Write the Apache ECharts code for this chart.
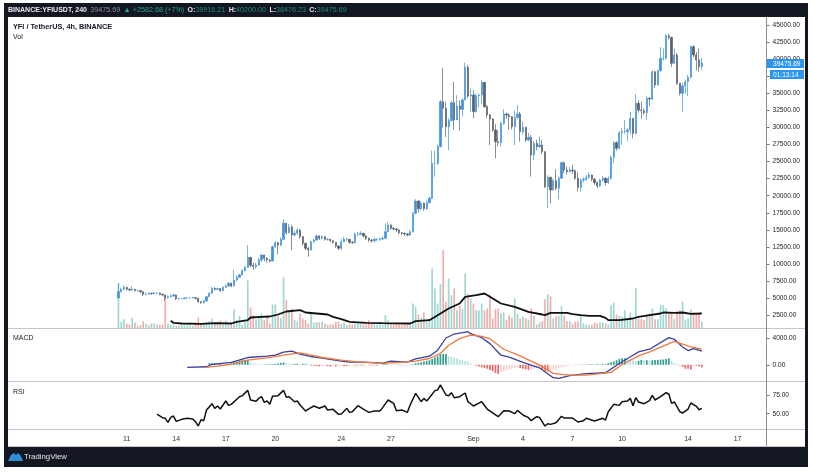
<!DOCTYPE html>
<html>
<head>
<meta charset="utf-8">
<title>YFI / TetherUS</title>
<script src="https://cdn.jsdelivr.net/npm/echarts@6/dist/echarts.min.js"></script>
<style>
    html, body { margin: 0; padding: 0; background: #fff; }
    #chart { width: 813px; height: 475px; }
</style>
</head>
<body>
<div id="chart"></div>
<script>
// 4h bars. firstBar is the slot of the first candle on the time axis.
const barCount = 276;
const firstBar = 40;
const timeTickBars = [43, 61, 79, 97, 121, 139, 169, 187, 205, 223, 247, 265];
const timeTickLabels = ["11", "14", "17", "20", "24", "27", "Sep", "4", "7", "10", "14", "17"];
const priceTicks = [2500, 5000, 7500, 10000, 12500, 15000, 17500, 20000, 22500, 25000, 27500, 30000, 32500, 35000, 37500, 40000, 42500, 45000];
const macdTicks = [0, 4000];
const rsiTicks = [50, 75];

const opens = [
    5000, 5925, 6267, 6560, 6267, 6170, 6267, 6071, 6071, 5925,
    5533, 5582, 5680, 5631, 5729, 5729, 5533, 5435, 5044, 5191,
    5289, 5435, 4898, 4898, 4898, 4996, 4996, 4996, 5044, 4947,
    4457, 4311, 4555, 5191, 5680, 6413, 6267, 6365, 6071, 6560,
    6756, 7147, 6756, 7636, 8027, 8370, 9005, 9494, 10960, 9788,
    9592, 9837, 10570, 11303, 10815, 10570, 10423, 12526, 13113, 12770,
    13602, 15949, 14580, 15400, 14237, 14482, 14971, 13993, 13015, 12281,
    12037, 13259, 13504, 14091, 13749, 13993, 13602, 13602, 13406, 13162,
    12624, 12281, 13259, 13602, 13602, 13162, 13113, 14335, 14335, 14482,
    14091, 13749, 13504, 13406, 13602, 13602, 13651, 13749, 14727, 15704,
    15215, 15118, 14971, 14580, 14482, 14384, 14237, 14727, 17416, 19225,
    18100, 18900, 18100, 18980, 19617, 24751, 24751, 27196, 33797, 32819,
    30130, 31010, 33651, 31108, 33162, 32673, 34042, 38834, 34629, 34775,
    32330, 34678, 34775, 36634, 33064, 31842, 31255, 29641, 27929, 27782,
    30619, 31988, 31842, 31597, 30130, 31499, 31988, 29397, 30032, 28174,
    28565, 25973, 27685, 27196, 27441, 26462, 21328, 22697, 20839, 22208,
    21083, 22550, 24849, 23773, 23528, 23773, 23675, 22550, 21230, 22306,
    22400, 22697, 23040, 22404, 21915, 21426, 22306, 22550, 21915, 22550,
    25631, 27782, 26950, 29249, 29396, 29396, 29640, 31351, 29151, 33552,
    32574, 32477, 32183, 34286, 34188, 38197, 36241, 38344, 40153, 40153,
    43479, 43234, 39420, 40643, 36486, 35019, 36095, 36731, 37366, 41865,
    40643, 39909, 38916.21
];
const closes = [
    5925, 6267, 6560, 6267, 6170, 6267, 6071, 6071, 5925, 5533,
    5582, 5680, 5631, 5729, 5729, 5533, 5435, 5044, 5191, 5289,
    5435, 4898, 4898, 4898, 4996, 4996, 4996, 5044, 4947, 4457,
    4311, 4555, 5191, 5680, 6413, 6267, 6365, 6071, 6560, 6756,
    7147, 6756, 7636, 8027, 8370, 9005, 9494, 10960, 9788, 9592,
    9837, 10570, 11303, 10815, 10570, 10423, 12526, 13113, 12770, 13602,
    15949, 14580, 15400, 14237, 14482, 14971, 13993, 13015, 12281, 12037,
    13259, 13504, 14091, 13749, 13993, 13602, 13602, 13406, 13162, 12624,
    12281, 13259, 13602, 13602, 13162, 13113, 14335, 14335, 14482, 14091,
    13749, 13504, 13406, 13602, 13602, 13651, 13749, 14727, 15704, 15215,
    15118, 14971, 14580, 14482, 14384, 14237, 14727, 17416, 19225, 18100,
    18900, 18100, 18980, 19617, 24751, 24751, 27196, 33797, 32819, 30130,
    31010, 33651, 31108, 33162, 32673, 34042, 38834, 34629, 34775, 32330,
    34678, 34775, 36634, 33064, 31842, 31255, 29641, 27929, 27782, 30619,
    31988, 31842, 31597, 30130, 31499, 31988, 29397, 30032, 28174, 28565,
    25973, 27685, 27196, 27441, 26462, 21328, 22697, 20839, 22208, 21083,
    22550, 24849, 23773, 23528, 23773, 23675, 22550, 21230, 22306, 22400,
    22697, 23040, 22404, 21915, 21426, 22306, 22550, 21915, 22550, 25631,
    27782, 26950, 29249, 29396, 29396, 29640, 31351, 29151, 33552, 32574,
    32477, 32183, 34286, 34188, 38197, 36241, 38344, 40153, 40153, 43479,
    43234, 39420, 40643, 36486, 35019, 36095, 36731, 37366, 41865, 40643,
    39909, 38916.21, 39475.69
];
const lows = [
    5000, 5800, 6150, 6100, 6000, 6050, 5950, 5900, 5750, 5250,
    5350, 5450, 5450, 5550, 5550, 5400, 5250, 4600, 4900, 5100,
    5150, 4700, 4750, 4800, 4850, 4900, 4900, 4950, 4800, 4300,
    4150, 4200, 4500, 5100, 5600, 6100, 6150, 5900, 6000, 6450,
    6650, 6600, 6700, 7500, 7950, 8300, 8900, 9400, 9500, 9100,
    9300, 9700, 10300, 10400, 10200, 10200, 10400, 12300, 11400, 12600,
    13500, 14300, 14500, 12000, 14000, 14300, 13700, 12700, 12000, 11050,
    11950, 13000, 13400, 13500, 13600, 13400, 13400, 13200, 12950, 12350,
    12000, 12037, 13150, 13350, 12950, 12950, 13050, 14100, 14200, 13900,
    13500, 13200, 13100, 13100, 13350, 13400, 13500, 13600, 14650, 15000,
    14900, 14700, 14350, 14200, 14100, 14050, 14100, 14600, 17300, 17500,
    17900, 17800, 17950, 18850, 19500, 22800, 24500, 27100, 30000, 28650,
    26700, 31100, 29650, 31300, 29550, 31600, 34000, 34300, 32300, 31350,
    32200, 33000, 33500, 32900, 31400, 27440, 29400, 25480, 27200, 27200,
    30400, 31300, 29650, 29700, 27440, 31200, 27930, 29000, 27900, 28000,
    22800, 25200, 26700, 27000, 26100, 21100, 18150, 18900, 20800, 20800,
    19470, 22500, 23300, 23100, 23300, 23200, 22300, 20600, 20600, 21900,
    22200, 22500, 22100, 21600, 21100, 21300, 22100, 21500, 21700, 22300,
    24750, 26600, 26800, 27500, 29100, 28000, 29000, 28400, 29000, 32200,
    31300, 31900, 31100, 33100, 34000, 35800, 36400, 38200, 39800, 40000,
    42900, 38900, 39400, 36200, 34700, 32300, 35000, 34600, 37200, 40300,
    38400, 38200, 38476.23
];
const highs = [
    7195, 6500, 6800, 6600, 6400, 6750, 6350, 6250, 6200, 6000,
    5800, 5850, 5800, 5900, 5850, 5800, 5600, 5500, 5400, 5500,
    5650, 5500, 5050, 5000, 5100, 5100, 5100, 5150, 5100, 5000,
    4550, 4700, 5300, 5850, 6600, 6550, 6500, 6450, 6700, 6950,
    7350, 7250, 9100, 8250, 8550, 9250, 9700, 12770, 11000, 10200,
    10150, 10950, 11500, 11350, 11000, 10700, 12650, 13350, 13250, 13900,
    16584, 15850, 15900, 15700, 14900, 15200, 15100, 14100, 13100, 12500,
    13400, 13700, 14300, 14200, 14200, 14100, 13800, 13700, 13500, 13200,
    12750, 13600, 13900, 13800, 13650, 13350, 14550, 14700, 14800, 14550,
    14200, 13850, 13650, 13800, 13750, 13850, 14000, 15950, 16190, 15800,
    15400, 15250, 15050, 14700, 14600, 14500, 14950, 17600, 19500, 19300,
    19200, 19000, 19300, 19900, 26609, 26600, 27500, 34050, 38785, 33800,
    31400, 33900, 36700, 34750, 34000, 34300, 39500, 39200, 35750, 35500,
    35000, 35000, 36950, 36500, 33300, 32000, 31400, 30500, 29650, 30900,
    32700, 32200, 32100, 31700, 32500, 33300, 32300, 30900, 30100, 29200,
    28900, 28000, 28200, 28700, 28200, 26500, 23000, 22800, 22500, 23900,
    22800, 25000, 25000, 24300, 24200, 24500, 23800, 23500, 22500, 22700,
    23000, 23400, 23100, 22600, 22100, 22500, 22900, 22700, 22800, 25900,
    28000, 28000, 29500, 29900, 31100, 29900, 32300, 31400, 34900, 34000,
    33800, 32800, 34600, 34500, 38400, 38300, 38500, 41800, 41600, 43700,
    43800, 43300, 41600, 40900, 36500, 36500, 37000, 37700, 42000, 42100,
    41100, 41600, 40200
];
const volumes = [
    135, 20, 28, 15, 12, 32, 18, 8, 10, 22,
    14, 10, 15, 15, 12, 12, 11, 95, 15, 10,
    12, 8, 8, 10, 9, 10, 10, 8, 14, 33,
    16, 14, 18, 22, 30, 15, 14, 24, 12, 24,
    10, 14, 58, 25, 38, 12, 20, 145, 63, 40,
    28, 38, 45, 25, 38, 15, 72, 72, 38, 30,
    153, 85, 55, 60, 25, 20, 45, 30, 25, 15,
    45, 18, 20, 18, 20, 15, 12, 12, 12, 20,
    20, 14, 18, 10, 12, 12, 14, 14, 14, 12,
    12, 25, 13, 13, 12, 12, 12, 40, 25, 14,
    12, 14, 12, 12, 14, 12, 15, 75, 65, 42,
    32, 48, 22, 25, 180, 120, 75, 133, 235, 80,
    150, 100, 120, 55, 70, 60, 165, 105, 90, 75,
    55, 55, 75, 55, 60, 100, 30, 58, 60, 45,
    48, 25, 40, 32, 90, 45, 30, 35, 30, 25,
    60, 38, 12, 18, 22, 88, 103, 97, 30, 37,
    38, 67, 38, 22, 22, 14, 20, 22, 40, 15,
    12, 10, 10, 18, 15, 18, 18, 15, 12, 70,
    78, 42, 38, 35, 55, 30, 48, 25, 122, 30,
    28, 25, 42, 45, 60, 28, 28, 70, 70, 60,
    45, 48, 28, 50, 55, 80, 25, 30, 58, 50,
    45, 48, 20
];
// [candle number, value]
const volumeAverage = [
    [19, 23], [20, 17], [23, 15], [30, 14], [35, 16], [41, 15], [43, 20], [47, 25], [48, 33], [52, 35],
    [55, 36], [58, 42], [59, 45], [61, 51], [66, 55], [68, 48], [72, 45], [76, 42], [78, 35], [81, 28],
    [84, 20], [90, 17], [96, 16], [106, 15], [108, 22], [113, 25], [116, 40], [120, 60], [124, 75], [126, 95],
    [130, 100], [133, 105], [135, 95], [139, 75], [144, 65], [145, 62], [149, 50], [154, 42], [155, 40], [157, 47],
    [160, 47], [163, 47], [165, 43], [168, 40], [171, 38], [175, 38], [177, 32], [178, 25], [182, 25], [187, 30],
    [189, 35], [193, 40], [197, 45], [198, 48], [202, 47], [205, 48], [208, 44], [212, 45]
];
const macdLine = [
    [25, -398], [32, -298], [34, 56], [41, 359], [47, 1117], [54, 1319], [57, 1470], [60, 1925], [63, 2076], [66, 1622],
    [70, 1268], [74, 1016], [81, 561], [84, 410], [89, 410], [96, 258], [99, 561], [105, 410], [108, 914], [113, 1319],
    [116, 2228], [119, 4096], [122, 4702], [125, 4904], [127, 5055], [128, 4752], [132, 4147], [135, 3238], [139, 1470], [142, 1167],
    [147, 359], [153, -449], [158, -1964], [160, -2065], [164, -1661], [170, -1358], [177, -1207], [182, 208], [187, 1470], [189, 1975],
    [193, 2379], [200, 4147], [202, 3894], [205, 2733], [207, 2177], [209, 2480], [212, 2076]
];
const signalLine = [
    [32, -398], [41, 56], [47, 712], [54, 1066], [60, 1470], [66, 1824], [70, 1470], [74, 1117], [81, 712], [87, 460],
    [96, 207], [105, 460], [108, 561], [113, 965], [117, 1722], [120, 2985], [124, 3995], [128, 4550], [132, 4350], [135, 3995],
    [140, 2379], [146, 1369], [153, -45], [158, -1307], [161, -1460], [164, -1560], [170, -1560], [179, -1156], [183, 56], [189, 1369],
    [193, 1975], [202, 3591], [208, 2733], [212, 2379]
];
const histFirst = 33;
const macdHist = [
    250, 250, 250, 200, 200, 150, 150, 150, 250, 400, 500, 600, 700, 700, 700, 300, 200, 150,
    100, 50, 50, 100, 100, 100, 150, 250, 300, 350, 250, 200, 150, 150, 150, 100, 150, 150, 100,
    -100, -150, -200, -250, -200, -150, -200, -250, -200, -250, -200, -150, -200, -200, -150, -100, -100, -100, -100,
    -100, -50, -50, -100, -100, -100, -50, 200, 250, 200, 150, 100, -50, -50, -50, -50, -50, 50,
    100, 250, 300, 400, 500, 600, 700, 900, 1100, 1300, 1600, 1650, 1650,
    1300, 1200, 1100, 1000, 800, 700, 600, 500, 200, 50,
    -150, -250, -400, -500, -600, -800, -1000, -1250, -1400, -1100, -1000, -900, -750, -600, -500, -400,
    -500, -600, -700, -800, -750, -600, -400, -300, -700, -900, -1000, -900, -800, -700, -500, -400, -300, -200, -150,
    -50, -50, 50, -50, 50, 50, 100, 100, 50, 100, 100, 100, 100, 250, 400, 500, 700,
    900, 1000, 1000, 900, 800, 700, 600, 600, 750, 700, 700, 650, 700, 750, 750, 800, 800, 900, 1000,
    600, 300, 150, -100, -300, -600, -600, -700, -150, -150, -250, -400
];
const rsiLine = [
    [14, 49.5], [16, 44.6], [17, 43.7], [18, 38.2], [19, 45], [20, 46.8], [21, 39.6], [23, 42.3], [25, 43.7], [27, 42.8],
    [28, 39.1], [29, 33.2], [30, 41.8], [31, 40.5], [32, 55], [34, 63.6], [35, 57.3], [36, 60.4], [37, 56.3], [39, 67.2],
    [40, 61.3], [41, 62.7], [44, 73.1], [45, 74.5], [47, 81.7], [48, 68.6], [50, 66.8], [51, 70.8], [52, 73.1], [53, 65.4],
    [54, 67.2], [55, 62.7], [56, 73.6], [58, 74.5], [60, 81.7], [61, 72.2], [62, 73.1], [64, 66.3], [65, 67.2], [66, 61.8],
    [68, 53.6], [69, 56.3], [71, 60.4], [73, 57.3], [75, 60.4], [76, 55], [78, 55.9], [80, 49.1], [81, 49.5], [83, 57.3],
    [84, 51.8], [85, 52.7], [87, 60.9], [89, 56.3], [91, 51.8], [93, 53.6], [95, 53.6], [96, 58.2], [98, 68.6], [100, 64],
    [101, 54], [103, 55], [105, 51.8], [106, 61.8], [108, 77.6], [110, 66.3], [111, 70.8], [112, 67.2], [113, 71.7], [115, 81.3],
    [116, 82.2], [117, 89], [119, 75.4], [120, 74.5], [121, 78.5], [122, 71.7], [124, 73.1], [126, 78.1], [127, 66.3], [129, 60.4],
    [132, 66.3], [134, 56.3], [138, 45.9], [140, 54], [142, 53.6], [144, 50], [145, 54.5], [147, 48.2], [149, 44.6], [150, 40.5],
    [152, 45.9], [153, 45], [155, 33.2], [156, 36.4], [157, 35.5], [159, 37.8], [161, 46.4], [162, 44.1], [165, 44.1], [167, 38.7],
    [169, 40.5], [170, 43.7], [173, 40], [176, 43.7], [177, 41.4], [178, 52.7], [180, 62.7], [182, 61.3], [183, 66.3], [185, 67.2],
    [186, 70.8], [187, 60.9], [188, 71.7], [189, 65.9], [191, 63.6], [193, 67.7], [194, 74.9], [195, 68.6], [197, 73.1], [199, 78.5],
    [200, 76.7], [201, 64], [202, 65.9], [204, 52.7], [205, 50.9], [207, 56.3], [208, 64.5], [210, 60], [211, 55.4], [212, 57.3]
];

const FONT = '"Liberation Sans", Arial, sans-serif';
const FRAME = "#131722";
const BORDER = "#c4c6ca";
const AXIS_X = 766.5;

document.addEventListener("DOMContentLoaded", () => {
    const chart = echarts.init(document.getElementById("chart"), null, { renderer: "canvas" });
    chart.setOption(buildOption());
});

// 把序号换成时间轴上的位置
function atBar(points) {
    return points.map(([k, v]) => [k + firstBar, v]);
}

function buildOption() {
    const categories = new Array(barCount).fill("");
    timeTickBars.forEach((bar, i) => { categories[bar] = timeTickLabels[i]; });

    const xBase = {
        type: "category",
        data: categories,
        boundaryGap: true,
        axisLine: { show: false },
        axisTick: { show: false },
        axisLabel: { show: false },
        splitLine: { show: false },
    };
    const yBase = {
        type: "value",
        position: "right",
        scale: true,
        splitLine: { show: false },
        axisLine: { show: false },
        axisTick: { show: true, length: 3, lineStyle: { color: "#777" } },
        axisLabel: { fontFamily: FONT, fontSize: 6.6, color: "#222", margin: 6, formatter: (v) => v.toFixed(2) },
    };

    // 前面的空位补 "-"，蜡烛才能落在正确的时间位置
    const blankSlots = new Array(firstBar).fill(["-", "-", "-", "-"]);
    const candleData = blankSlots.concat(closes.map((c, i) => [opens[i], c, lows[i], highs[i]]));
    const volData = volumes.map((v, i) => [i + firstBar, v]);
    const histData = macdHist.map((v, i) => [i + histFirst + firstBar, v]);

    return {
        animation: false,
        backgroundColor: "#fff",
        grid: [
            { left: 7, width: AXIS_X - 7, top: 17, height: 311.5 },
            { left: 7, width: AXIS_X - 7, top: 328.5, height: 52.5 },
            { left: 7, width: AXIS_X - 7, top: 381, height: 48 },
        ],
        xAxis: [
            { ...xBase, gridIndex: 0 },
            { ...xBase, gridIndex: 1 },
            {
                ...xBase,
                gridIndex: 2,
                axisLabel: {
                    show: true,
                    interval: (i) => timeTickBars.includes(i),
                    fontFamily: FONT,
                    fontSize: 7,
                    color: "#333",
                    margin: 7,
                },
            },
        ],
        yAxis: [
            {
                ...yBase, gridIndex: 0, min: 519, max: 46218,
                axisTick: { ...yBase.axisTick, customValues: priceTicks },
                axisLabel: { ...yBase.axisLabel, customValues: priceTicks },
            },
            { type: "value", gridIndex: 0, min: 0, max: 934.5, show: false },
            {
                ...yBase, gridIndex: 1, min: -2470, max: 5545,
                axisTick: { ...yBase.axisTick, customValues: macdTicks },
                axisLabel: { ...yBase.axisLabel, customValues: macdTicks },
            },
            {
                ...yBase, gridIndex: 2, min: 29.2, max: 94.4,
                axisTick: { ...yBase.axisTick, customValues: rsiTicks },
                axisLabel: { ...yBase.axisLabel, customValues: rsiTicks },
            },
        ],
        series: [
            {
                name: "Vol",
                type: "bar",
                xAxisIndex: 0,
                yAxisIndex: 1,
                barWidth: 1.7,
                data: volData,
                itemStyle: { color: (p) => (closes[p.dataIndex] >= opens[p.dataIndex] ? "#9fd8d0" : "#f3aeac") },
                z: 1,
            },
            {
                name: "Vol MA",
                type: "line",
                xAxisIndex: 0,
                yAxisIndex: 1,
                showSymbol: false,
                data: atBar(volumeAverage),
                lineStyle: { color: "#111", width: 1.8 },
                z: 2,
            },
            {
                name: "YFIUSDT",
                type: "candlestick",
                xAxisIndex: 0,
                yAxisIndex: 0,
                barWidth: 1.8,
                data: candleData,
                itemStyle: {
                    color: "#3f93e0",
                    borderColor: "#3f93e0",
                    color0: "#5a5e69",
                    borderColor0: "#5a5e69",
                    borderWidth: 0.7,
                },
                z: 3,
            },
            {
                name: "Histogram",
                type: "bar",
                xAxisIndex: 1,
                yAxisIndex: 2,
                barWidth: 1.7,
                data: histData,
                itemStyle: { color: histColor },
            },
            {
                name: "MACD",
                type: "line",
                xAxisIndex: 1,
                yAxisIndex: 2,
                showSymbol: false,
                data: atBar(macdLine),
                lineStyle: { color: "#3a3f9e", width: 1.3 },
            },
            {
                name: "Signal",
                type: "line",
                xAxisIndex: 1,
                yAxisIndex: 2,
                showSymbol: false,
                data: atBar(signalLine),
                lineStyle: { color: "#ef7a3d", width: 1.3 },
            },
            {
                name: "RSI",
                type: "line",
                xAxisIndex: 2,
                yAxisIndex: 3,
                showSymbol: false,
                data: atBar(rsiLine),
                lineStyle: { color: "#111", width: 1.5 },
            },
        ],
        graphic: buildFrame(),
    };
}

function histColor(p) {
    const v = macdHist[p.dataIndex];
    const prev = p.dataIndex > 0 ? macdHist[p.dataIndex - 1] : 0;
    if (v >= 0) return v >= prev ? "#2f9e90" : "#b4e0da";
    return v <= prev ? "#ee6a66" : "#fbcfd0";
}

// 外框、标题文字、价格标签、Logo
function buildFrame() {
    const rect = (x, y, width, height, fill) => ({ type: "rect", silent: true, z: 50, shape: { x, y, width, height }, style: { fill } });
    const line = (x1, y1, x2, y2) => ({ type: "line", silent: true, z: 40, shape: { x1, y1, x2, y2 }, style: { stroke: BORDER, lineWidth: 1 } });
    const label = (x, y, text, extra) => ({
        type: "text", silent: true, z: 60, x, y,
        style: { text, fontFamily: FONT, fontSize: 7, fill: "#222", verticalAlign: "middle", ...extra },
    });

    const value = { fill: "#1f8a7d", fontFamily: FONT, fontSize: 7.2 };
    const head = { fill: "#e8e9ec", fontFamily: FONT, fontSize: 7, fontWeight: "bold" };
    const change = { fill: "#2aa596", fontFamily: FONT, fontSize: 7.2 };
    const price = { fill: "#8d939e", fontFamily: FONT, fontSize: 7.2 };

    return [
        rect(4, 3, 804, 14, FRAME),
        rect(4, 3, 4, 464, FRAME),
        rect(805, 3, 3, 464, FRAME),
        rect(4, 447, 804, 20, FRAME),
        line(8, 328.5, 805, 328.5),
        line(8, 381.5, 805, 381.5),
        line(8, 429.5, 805, 429.5),
        line(8, 446.5, 805, 446.5),
        { type: "line", silent: true, z: 41, shape: { x1: AXIS_X, y1: 17, x2: AXIS_X, y2: 446 }, style: { stroke: "#8a8d93", lineWidth: 1 } },
        {
            type: "text", silent: true, z: 60, x: 8, y: 10,
            style: {
                text: "{h|BINANCE:YFIUSDT, 240} {p|39475.69} {c|▲ +2582.68 (+7%)} {h|O:}{v|38916.21} {h|H:}{v|40200.00} {h|L:}{v|38476.23} {h|C:}{v|39475.69}",
                verticalAlign: "middle",
                rich: { h: head, p: price, c: change, v: value },
            },
        },
        label(13, 27, "YFI / TetherUS, 4h, BINANCE", { fontSize: 7.3, fontWeight: "bold", fill: "#131722" }),
        label(13, 37, "Vol"),
        label(13, 338.5, "MACD"),
        label(13, 392, "RSI"),
        rect(767, 59, 37, 9, "#2b96f0"),
        label(773, 63.8, "39475.69", { fontSize: 6.6, fill: "#fff" }),
        rect(770, 70, 34, 9, "#2b96f0"),
        label(773, 74.8, "01:13:14", { fontSize: 6.6, fill: "#fff" }),
        {
            type: "polygon", silent: true, z: 60,
            shape: { points: [[8, 461], [11, 455], [14, 453], [16, 455], [18, 453], [21, 456], [23, 461]] },
            style: { fill: "#2e8fd6" },
        },
        label(24, 457, "TradingView", { fontSize: 7.8, fill: "#e6e8ec" }),
    ];
}
</script>
</body>
</html>
